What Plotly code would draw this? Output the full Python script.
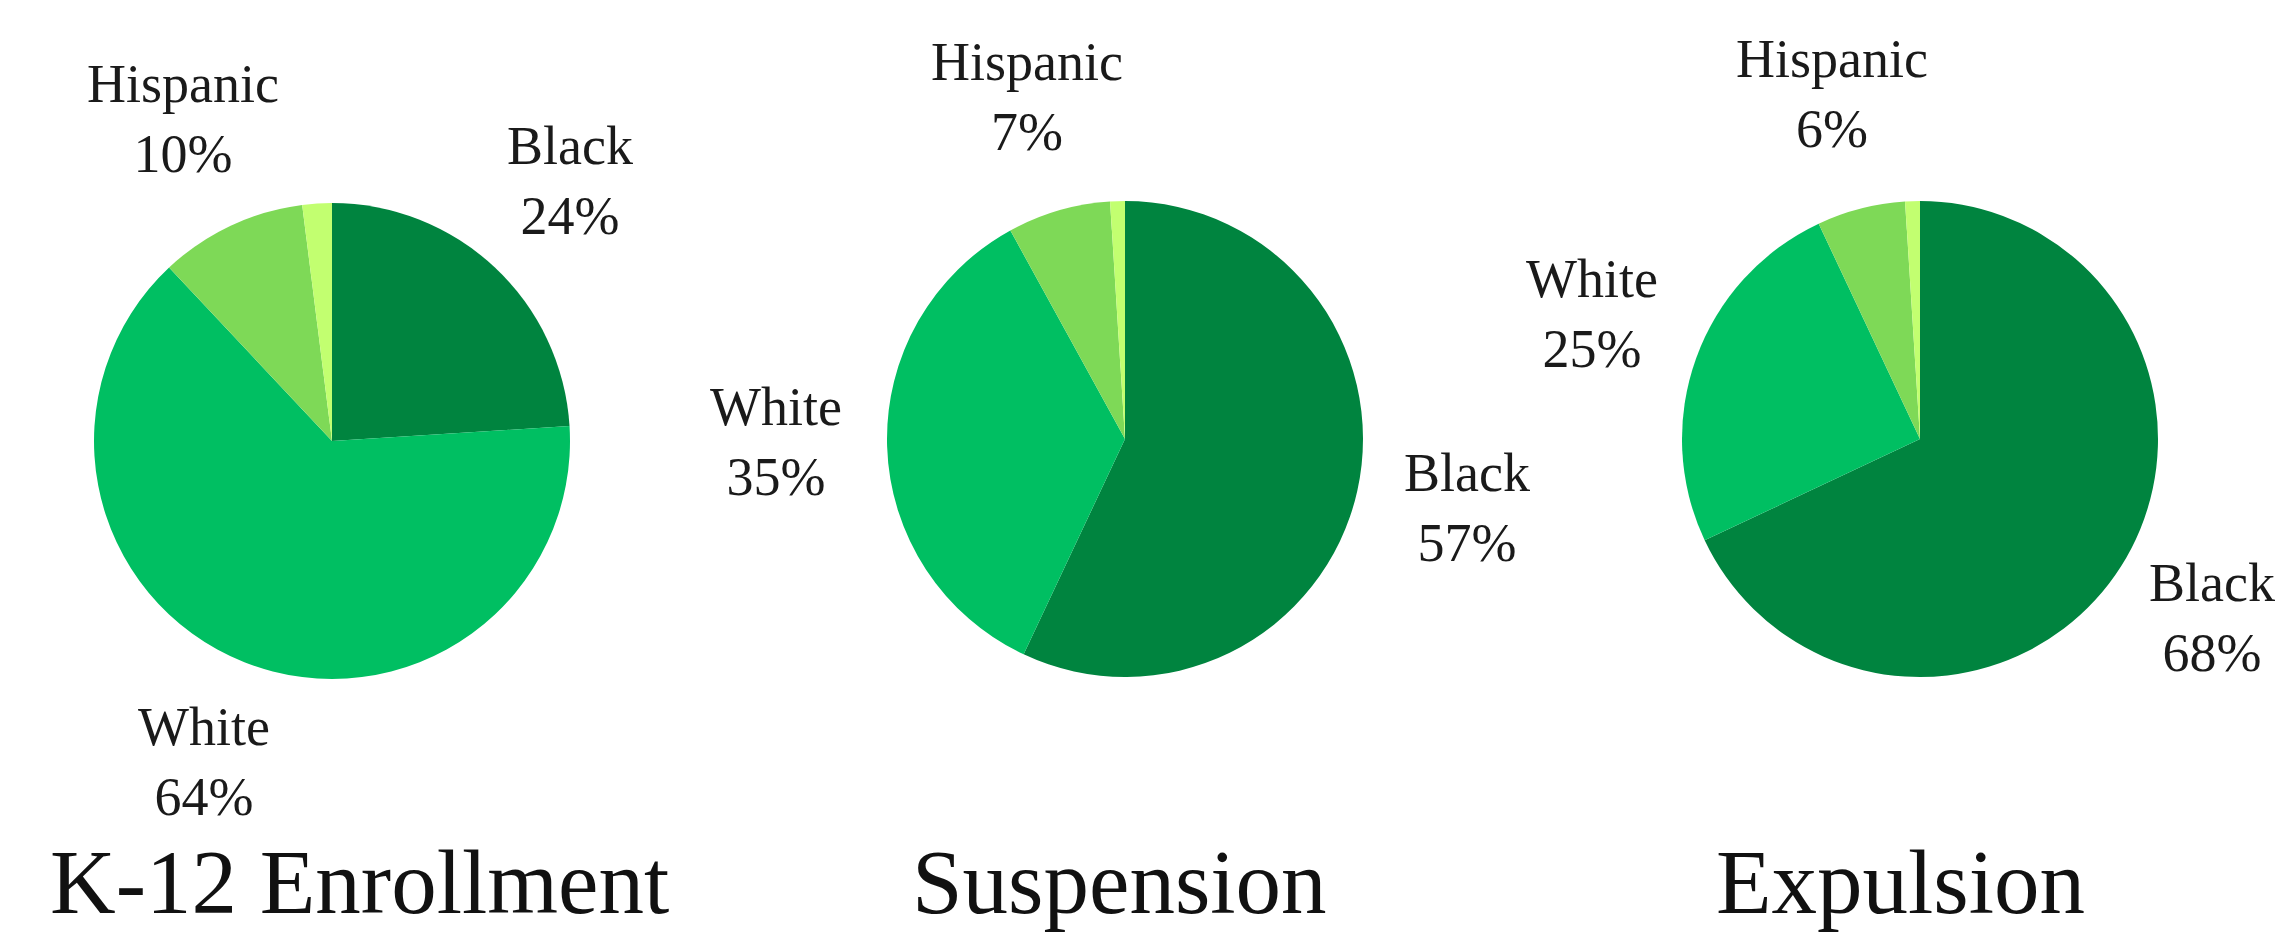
import plotly.graph_objects as go

W, H = 2277, 934

categories = ["Black", "White", "Hispanic", "Other"]
enrollment = [24, 64, 10, 2]
suspension = [57, 35, 7, 1]
expulsion = [68, 25, 6, 1]
chart_titles = ["K-12 Enrollment", "Suspension", "Expulsion"]

colors = ["#00843F", "#00BF62", "#7ED957", "#C2FF70"]
FONT = "Liberation Serif"

# pie geometry in pixels: (center x, center y, radius)
pies = [(332, 441, 238), (1125, 439, 238), (1920, 439, 238)]
# label block centers in pixels for Black, White, Hispanic
label_pos = [
    [(570, 181), (204, 762), (183, 119)],
    [(1467, 508), (776, 442), (1027, 97)],
    [(2212, 618), (1592, 314), (1832, 94)],
]
title_pos = [(359, 882), (1119, 882), (1900, 882)]

series = [enrollment, suspension, expulsion]

fig = go.Figure()
annotations = []
for i, vals in enumerate(series):
    cx, cy, r = pies[i]
    fig.add_trace(go.Pie(
        labels=categories,
        values=vals,
        sort=False,
        direction="clockwise",
        rotation=0,
        textinfo="none",
        hoverinfo="label+percent",
        marker=dict(colors=colors, line=dict(width=0)),
        domain=dict(x=[(cx - r) / W, (cx + r) / W],
                    y=[1 - (cy + r) / H, 1 - (cy - r) / H]),
        showlegend=False,
    ))
    for j in range(3):
        lx, ly = label_pos[i][j]
        annotations.append(dict(
            x=lx / W, y=1 - ly / H, xref="paper", yref="paper",
            text=f"{categories[j]}<br>{vals[j]}%",
            showarrow=False, xanchor="center", yanchor="middle",
            font=dict(family=FONT, size=54, color="#1a1a1a"),
        ))
    tx, ty = title_pos[i]
    annotations.append(dict(
        x=tx / W, y=1 - ty / H, xref="paper", yref="paper",
        text=chart_titles[i], showarrow=False,
        xanchor="center", yanchor="middle",
        font=dict(family=FONT, size=91, color="#111111"),
    ))

fig.update_layout(
    width=W, height=H,
    margin=dict(l=0, r=0, t=0, b=0),
    paper_bgcolor="white",
    plot_bgcolor="white",
    annotations=annotations,
)

fig.write_html(
    "out.html",
    config={"displayModeBar": False},
    post_script="document.body.style.margin='0';document.body.style.overflow='hidden';",
)
